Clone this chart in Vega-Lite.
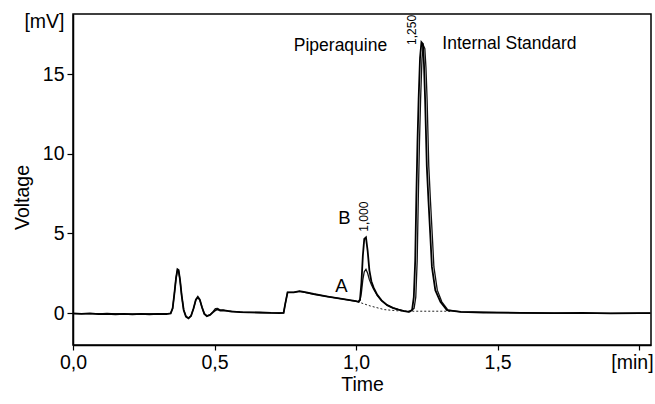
{
  "$schema": "https://vega.github.io/schema/vega-lite/v6.json",
  "autosize": {"type": "none"},
  "width": 578,
  "height": 331,
  "padding": {"left": 73, "top": 14, "right": 4, "bottom": 59},
  "background": "white",
  "config": {
    "font": "Liberation Sans",
    "view": {"stroke": "black", "strokeWidth": 1.5},
    "axis": {"grid": false, "domainColor": "black", "domainWidth": 1.5, "tickColor": "black", "tickWidth": 1.2, "labelColor": "black", "titleColor": "black", "labelFontSize": 19.5, "titleFontSize": 19.5, "titleFontWeight": "normal", "labelFont": "Liberation Sans", "titleFont": "Liberation Sans"}
  },
  "datasets": {
    "trace": [
      {"t":0,"mV":-0.02,"trace":"B"},{"t":0.03,"mV":-0.05,"trace":"B"},{"t":0.06,"mV":-0.02,"trace":"B"},{"t":0.09,"mV":-0.06,"trace":"B"},{"t":0.12,"mV":-0.04,"trace":"B"},{"t":0.15,"mV":-0.07,"trace":"B"},{"t":0.18,"mV":-0.05,"trace":"B"},{"t":0.21,"mV":-0.08,"trace":"B"},{"t":0.24,"mV":-0.05,"trace":"B"},{"t":0.27,"mV":-0.07,"trace":"B"},{"t":0.30,"mV":-0.05,"trace":"B"},{"t":0.33,"mV":-0.06,"trace":"B"},{"t":0.345,"mV":-0.02,"trace":"B"},{"t":0.352,"mV":0.3,"trace":"B"},{"t":0.358,"mV":1.2,"trace":"B"},{"t":0.364,"mV":2.2,"trace":"B"},{"t":0.369,"mV":2.75,"trace":"B"},{"t":0.373,"mV":2.7,"trace":"B"},{"t":0.378,"mV":2.1,"trace":"B"},{"t":0.384,"mV":1.1,"trace":"B"},{"t":0.391,"mV":0.2,"trace":"B"},{"t":0.399,"mV":-0.22,"trace":"B"},{"t":0.408,"mV":-0.33,"trace":"B"},{"t":0.417,"mV":-0.18,"trace":"B"},{"t":0.426,"mV":0.3,"trace":"B"},{"t":0.434,"mV":0.85,"trace":"B"},{"t":0.441,"mV":1.02,"trace":"B"},{"t":0.448,"mV":0.85,"trace":"B"},{"t":0.456,"mV":0.35,"trace":"B"},{"t":0.464,"mV":-0.05,"trace":"B"},{"t":0.473,"mV":-0.19,"trace":"B"},{"t":0.484,"mV":-0.12,"trace":"B"},{"t":0.494,"mV":0.05,"trace":"B"},{"t":0.503,"mV":0.18,"trace":"B"},{"t":0.511,"mV":0.23,"trace":"B"},{"t":0.52,"mV":0.16,"trace":"B"},{"t":0.53,"mV":0.18,"trace":"B"},{"t":0.545,"mV":0.14,"trace":"B"},{"t":0.56,"mV":0.1,"trace":"B"},{"t":0.59,"mV":0.06,"trace":"B"},{"t":0.62,"mV":0.05,"trace":"B"},{"t":0.66,"mV":0.04,"trace":"B"},{"t":0.70,"mV":0.01,"trace":"B"},{"t":0.73,"mV":0.0,"trace":"B"},{"t":0.744,"mV":0.02,"trace":"B"},{"t":0.75,"mV":0.6,"trace":"B"},{"t":0.758,"mV":1.3,"trace":"B"},{"t":0.78,"mV":1.3,"trace":"B"},{"t":0.80,"mV":1.38,"trace":"B"},{"t":0.82,"mV":1.32,"trace":"B"},{"t":0.85,"mV":1.2,"trace":"B"},{"t":0.90,"mV":1.04,"trace":"B"},{"t":0.95,"mV":0.9,"trace":"B"},{"t":1.00,"mV":0.75,"trace":"B"},{"t":1.009,"mV":0.71,"trace":"B"},{"t":1.014,"mV":0.85,"trace":"B"},{"t":1.019,"mV":1.9,"trace":"B"},{"t":1.024,"mV":3.6,"trace":"B"},{"t":1.029,"mV":4.65,"trace":"B"},{"t":1.035,"mV":4.75,"trace":"B"},{"t":1.041,"mV":3.9,"trace":"B"},{"t":1.047,"mV":2.7,"trace":"B"},{"t":1.054,"mV":2.0,"trace":"B"},{"t":1.062,"mV":1.6,"trace":"B"},{"t":1.075,"mV":1.15,"trace":"B"},{"t":1.09,"mV":0.8,"trace":"B"},{"t":1.11,"mV":0.5,"trace":"B"},{"t":1.13,"mV":0.33,"trace":"B"},{"t":1.15,"mV":0.22,"trace":"B"},{"t":1.17,"mV":0.13,"trace":"B"},{"t":1.186,"mV":0.08,"trace":"B"},{"t":1.198,"mV":0.2,"trace":"B"},{"t":1.204,"mV":1.0,"trace":"B"},{"t":1.209,"mV":3.3,"trace":"B"},{"t":1.213,"mV":7.3,"trace":"B"},{"t":1.217,"mV":10.7,"trace":"B"},{"t":1.221,"mV":13.4,"trace":"B"},{"t":1.226,"mV":16.0,"trace":"B"},{"t":1.231,"mV":17.0,"trace":"B"},{"t":1.236,"mV":16.9,"trace":"B"},{"t":1.24,"mV":15.6,"trace":"B"},{"t":1.244,"mV":13.4,"trace":"B"},{"t":1.25,"mV":9.2,"trace":"B"},{"t":1.256,"mV":7.0,"trace":"B"},{"t":1.262,"mV":5.0,"trace":"B"},{"t":1.268,"mV":2.9,"trace":"B"},{"t":1.28,"mV":1.44,"trace":"B"},{"t":1.298,"mV":0.71,"trace":"B"},{"t":1.321,"mV":0.19,"trace":"B"},{"t":1.37,"mV":0.08,"trace":"B"},{"t":1.45,"mV":0.04,"trace":"B"},{"t":1.58,"mV":0.02,"trace":"B"},{"t":1.7,"mV":0.0,"trace":"B"},{"t":1.8,"mV":0.01,"trace":"B"},{"t":1.9,"mV":-0.02,"trace":"B"},{"t":2.0,"mV":0.0,"trace":"B"},{"t":2.04,"mV":0.0,"trace":"B"},

      {"t":0,"mV":-0.03,"trace":"A"},{"t":0.1,"mV":-0.04,"trace":"A"},{"t":0.2,"mV":-0.05,"trace":"A"},{"t":0.3,"mV":-0.05,"trace":"A"},{"t":0.345,"mV":-0.02,"trace":"A"},{"t":0.352,"mV":0.3,"trace":"A"},{"t":0.358,"mV":1.2,"trace":"A"},{"t":0.364,"mV":2.2,"trace":"A"},{"t":0.369,"mV":2.7,"trace":"A"},{"t":0.373,"mV":2.65,"trace":"A"},{"t":0.378,"mV":2.1,"trace":"A"},{"t":0.384,"mV":1.1,"trace":"A"},{"t":0.391,"mV":0.2,"trace":"A"},{"t":0.399,"mV":-0.2,"trace":"A"},{"t":0.408,"mV":-0.3,"trace":"A"},{"t":0.417,"mV":-0.16,"trace":"A"},{"t":0.426,"mV":0.3,"trace":"A"},{"t":0.434,"mV":0.82,"trace":"A"},{"t":0.441,"mV":0.98,"trace":"A"},{"t":0.448,"mV":0.82,"trace":"A"},{"t":0.456,"mV":0.35,"trace":"A"},{"t":0.464,"mV":-0.04,"trace":"A"},{"t":0.473,"mV":-0.17,"trace":"A"},{"t":0.484,"mV":-0.1,"trace":"A"},{"t":0.494,"mV":0.08,"trace":"A"},{"t":0.503,"mV":0.28,"trace":"A"},{"t":0.511,"mV":0.3,"trace":"A"},{"t":0.52,"mV":0.2,"trace":"A"},{"t":0.545,"mV":0.14,"trace":"A"},{"t":0.6,"mV":0.06,"trace":"A"},{"t":0.7,"mV":0.01,"trace":"A"},{"t":0.744,"mV":0.02,"trace":"A"},{"t":0.75,"mV":0.6,"trace":"A"},{"t":0.758,"mV":1.3,"trace":"A"},{"t":0.78,"mV":1.3,"trace":"A"},{"t":0.80,"mV":1.36,"trace":"A"},{"t":0.85,"mV":1.19,"trace":"A"},{"t":0.90,"mV":1.03,"trace":"A"},{"t":0.95,"mV":0.89,"trace":"A"},{"t":1.00,"mV":0.74,"trace":"A"},{"t":1.009,"mV":0.71,"trace":"A"},{"t":1.014,"mV":0.8,"trace":"A"},{"t":1.019,"mV":1.3,"trace":"A"},{"t":1.024,"mV":2.1,"trace":"A"},{"t":1.029,"mV":2.6,"trace":"A"},{"t":1.035,"mV":2.75,"trace":"A"},{"t":1.041,"mV":2.5,"trace":"A"},{"t":1.047,"mV":2.1,"trace":"A"},{"t":1.054,"mV":1.8,"trace":"A"},{"t":1.062,"mV":1.5,"trace":"A"},{"t":1.075,"mV":1.1,"trace":"A"},{"t":1.09,"mV":0.78,"trace":"A"},{"t":1.11,"mV":0.5,"trace":"A"},{"t":1.13,"mV":0.33,"trace":"A"},{"t":1.15,"mV":0.22,"trace":"A"},{"t":1.17,"mV":0.13,"trace":"A"},{"t":1.19,"mV":0.08,"trace":"A"},{"t":1.205,"mV":0.3,"trace":"A"},{"t":1.211,"mV":1.0,"trace":"A"},{"t":1.216,"mV":3.3,"trace":"A"},{"t":1.22,"mV":7.3,"trace":"A"},{"t":1.224,"mV":10.7,"trace":"A"},{"t":1.228,"mV":13.4,"trace":"A"},{"t":1.233,"mV":16.0,"trace":"A"},{"t":1.238,"mV":16.8,"trace":"A"},{"t":1.243,"mV":16.6,"trace":"A"},{"t":1.247,"mV":15.4,"trace":"A"},{"t":1.251,"mV":13.4,"trace":"A"},{"t":1.257,"mV":9.2,"trace":"A"},{"t":1.263,"mV":7.0,"trace":"A"},{"t":1.269,"mV":5.0,"trace":"A"},{"t":1.275,"mV":2.9,"trace":"A"},{"t":1.287,"mV":1.44,"trace":"A"},{"t":1.303,"mV":0.71,"trace":"A"},{"t":1.325,"mV":0.19,"trace":"A"},{"t":1.37,"mV":0.08,"trace":"A"},{"t":1.5,"mV":0.03,"trace":"A"},{"t":1.7,"mV":0.0,"trace":"A"},{"t":1.9,"mV":-0.01,"trace":"A"},{"t":2.04,"mV":0.0,"trace":"A"}
    ],
    "base": [
      {"t":1.005,"mV":0.72},{"t":1.05,"mV":0.45},{"t":1.1,"mV":0.22},{"t":1.15,"mV":0.14},{"t":1.2,"mV":0.12},{"t":1.32,"mV":0.12},{"t":1.335,"mV":0.1}
    ],
    "names": [
      {"t":0.945,"mV":16.76,"text":"Piperaquine"},
      {"t":1.542,"mV":16.9,"text":"Internal Standard"}
    ],
    "letters": [
      {"t":0.959,"mV":5.94,"text":"B"},
      {"t":0.948,"mV":1.71,"text":"A"}
    ],
    "rt": [
      {"t":1.199,"mV":17.77,"text":"1,250"},
      {"t":1.029,"mV":6.05,"text":"1,000"}
    ]
  },
  "layer": [
    {
      "data": {"name": "base"},
      "mark": {"type": "line", "color": "#222", "strokeWidth": 1, "strokeDash": [2, 2]},
      "encoding": {
        "x": {"field": "t", "type": "quantitative"},
        "y": {"field": "mV", "type": "quantitative"}
      }
    },
    {
      "data": {"name": "trace"},
      "transform": [{"filter": "datum.trace == 'A'"}],
      "mark": {"type": "line", "color": "#111", "strokeWidth": 1.3},
      "encoding": {
        "x": {"field": "t", "type": "quantitative"},
        "y": {"field": "mV", "type": "quantitative"}
      }
    },
    {
      "data": {"name": "trace"},
      "transform": [{"filter": "datum.trace == 'B'"}],
      "mark": {"type": "line", "color": "#000", "strokeWidth": 1.8},
      "encoding": {
        "x": {
          "field": "t", "type": "quantitative",
          "scale": {"domain": [0, 2.042], "nice": false, "zero": false},
          "axis": {
            "title": "Time",
            "values": [0, 0.5, 1, 1.5, 2],
            "labelExpr": "datum.value == 2 ? '[min]' : replace(format(datum.value, '.1f'), '.', ',')",
            "tickSize": 5,
            "labelPadding": 3,
            "labelAlign": {"condition": {"test": "datum.value == 2", "value": "right"}, "value": "center"},
            "labelOffset": {"condition": {"test": "datum.value == 2", "value": 14}, "value": 0},
            "titlePadding": 4
          }
        },
        "y": {
          "field": "mV", "type": "quantitative",
          "scale": {"domain": [-2.0, 18.77], "nice": false, "zero": false},
          "axis": {
            "title": "Voltage",
            "values": [0, 5, 10, 15, 18.29],
            "labelExpr": "datum.value > 17 ? '[mV]' : datum.label",
            "tickSize": 6,
            "tickOpacity": {"condition": {"test": "datum.value > 17", "value": 0}, "value": 1},
            "labelPadding": 3,
            "titleAngle": 270,
            "titleAlign": "center",
            "titleBaseline": "middle",
            "titleX": -51,
            "titleY": 183
          }
        }
      }
    },
    {
      "data": {"name": "names"},
      "mark": {"type": "text", "fontSize": 17.5, "color": "black", "align": "center", "baseline": "middle"},
      "encoding": {
        "x": {"field": "t", "type": "quantitative"},
        "y": {"field": "mV", "type": "quantitative"},
        "text": {"field": "text"}
      }
    },
    {
      "data": {"name": "letters"},
      "mark": {"type": "text", "fontSize": 18.5, "color": "black", "align": "center", "baseline": "middle"},
      "encoding": {
        "x": {"field": "t", "type": "quantitative"},
        "y": {"field": "mV", "type": "quantitative"},
        "text": {"field": "text"}
      }
    },
    {
      "data": {"name": "rt"},
      "mark": {"type": "text", "fontSize": 12, "color": "black", "align": "center", "baseline": "middle", "angle": 270},
      "encoding": {
        "x": {"field": "t", "type": "quantitative"},
        "y": {"field": "mV", "type": "quantitative"},
        "text": {"field": "text"}
      }
    }
  ]
}
